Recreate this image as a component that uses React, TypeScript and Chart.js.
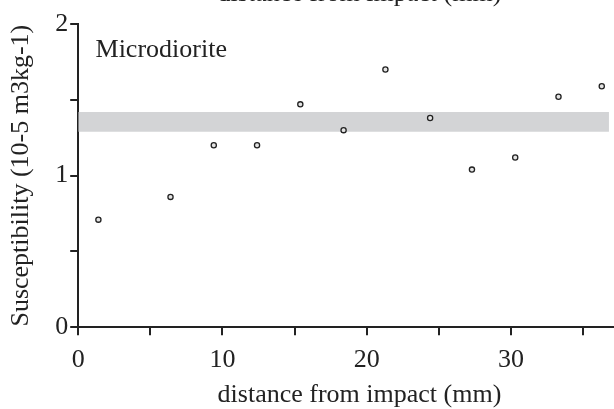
import { useEffect, useRef } from 'react';
import Chart from 'chart.js/auto';

const FONT = "'Liberation Serif', 'Times New Roman', serif";
const INK = '#222222';

// measured susceptibility along the core
const distances = [1.4, 6.4, 9.4, 12.4, 15.4, 18.4, 21.3, 24.4, 27.3, 30.3, 33.3, 36.3];
const susceptibility = [0.71, 0.86, 1.2, 1.2, 1.47, 1.3, 1.7, 1.38, 1.04, 1.12, 1.52, 1.59];

// grey band (background range)
const bandX = [0, 36.8];
const bandTop = 1.42;
const bandBottom = 1.29;

const xTicksLabelled = [0, 10, 20, 30];
const yTicksLabelled = [0, 1, 2];

const labelsPlugin = {
  id: 'labels',
  afterDraw(chart: any) {
    const { ctx, scales, chartArea } = chart;
    ctx.save();
    ctx.fillStyle = INK;
    ctx.font = `26px ${FONT}`;
    ctx.textBaseline = 'alphabetic';
    ctx.textAlign = 'left';
    ctx.fillText('Microdiorite', scales.x.getPixelForValue(1.2), scales.y.getPixelForValue(1.785));
    // title of the panel above, cut off by the frame
    ctx.textAlign = 'center';
    ctx.fillText('distance from impact (mm)', (chartArea.left + chartArea.right) / 2, 1);
    ctx.restore();
  },
};

export default function App() {
  const ref = useRef<HTMLCanvasElement>(null);
  useEffect(() => {
    document.body.style.margin = '0';
    if (!ref.current) return;
    const c = new Chart(ref.current, {
      type: 'scatter',
      data: {
        datasets: [
          {
            label: 'Microdiorite',
            data: distances.map((x, i) => ({ x, y: susceptibility[i] })),
            backgroundColor: '#e4e4e4',
            borderColor: INK,
            borderWidth: 1.3,
            pointRadius: 2.6,
          },
          {
            label: 'band top',
            type: 'line',
            data: bandX.map((x) => ({ x, y: bandTop })),
            showLine: true,
            borderWidth: 0,
            pointRadius: 0,
            fill: '+1',
            backgroundColor: '#d3d4d6',
          },
          {
            label: 'band bottom',
            type: 'line',
            data: bandX.map((x) => ({ x, y: bandBottom })),
            showLine: true,
            borderWidth: 0,
            pointRadius: 0,
            fill: false,
          },
        ],
      },
      options: {
        animation: false,
        responsive: true,
        maintainAspectRatio: false,
        layout: { padding: { left: 6, right: 4, top: 24, bottom: 0 } },
        scales: {
          x: {
            type: 'linear',
            min: 0,
            max: 39,
            border: { display: true, color: INK, width: 2 },
            grid: { drawOnChartArea: false, drawTicks: true, tickLength: 8, color: INK, lineWidth: 2 },
            ticks: {
              stepSize: 5,
              autoSkip: false,
              includeBounds: false,
              maxRotation: 0,
              padding: 12,
              color: INK,
              font: { family: FONT, size: 26, lineHeight: 1 },
              callback: (v: any) => (xTicksLabelled.includes(v) ? String(v) : ''),
            },
            title: {
              display: true,
              text: 'distance from impact (mm)',
              color: INK,
              font: { family: FONT, size: 26 },
              padding: { top: -5.5, bottom: -2 },
            },
          },
          y: {
            min: 0,
            max: 2,
            border: { display: true, color: INK, width: 2 },
            grid: { drawOnChartArea: false, drawTicks: true, tickLength: 8, color: INK, lineWidth: 2 },
            ticks: {
              stepSize: 0.5,
              autoSkip: false,
              padding: 2,
              color: INK,
              font: { family: FONT, size: 26 },
              callback: (v: any) => (yTicksLabelled.includes(v) ? String(v) : ''),
            },
            title: {
              display: true,
              text: 'Susceptibility (10-5 m3kg-1)',
              color: INK,
              font: { family: FONT, size: 26 },
              padding: { top: 0, bottom: 16 },
            },
          },
        },
        plugins: {
          legend: { display: false },
          tooltip: { enabled: false },
        },
      },
      plugins: [labelsPlugin],
    });
    return () => c.destroy();
  }, []);
  return (
    <div style={{ width: 614, height: 409, overflow: 'hidden', position: 'relative' }}>
      <div style={{ width: 646, height: 409 }}>
        <canvas ref={ref} />
      </div>
    </div>
  );
}
